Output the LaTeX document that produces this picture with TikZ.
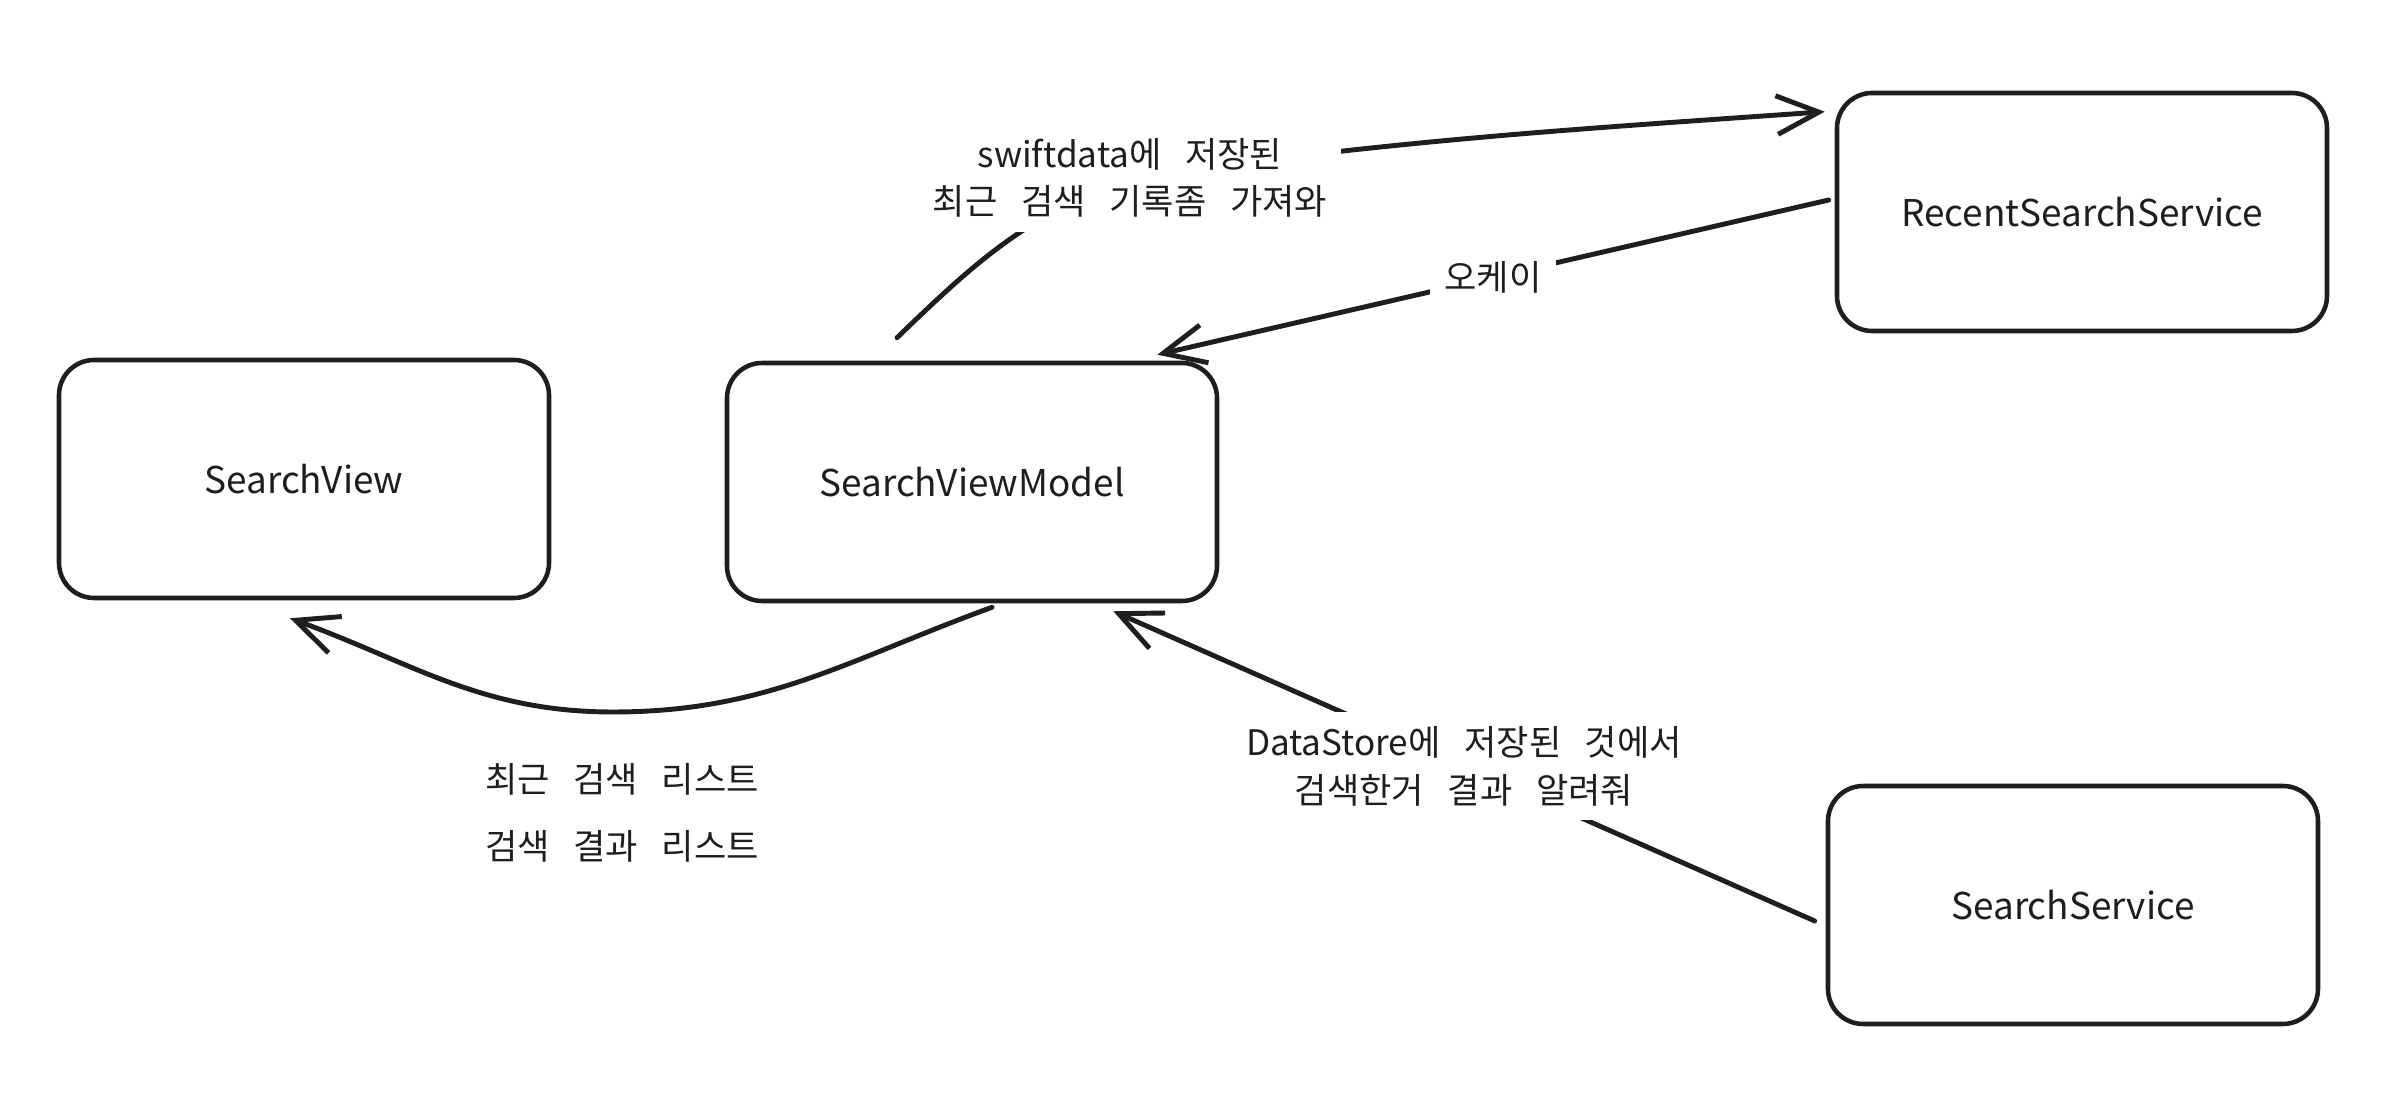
\documentclass[tikz,border=0pt]{standalone}
\usepackage{fontspec}
\setmainfont{Noto Sans CJK KR}[WordSpace=3]
\usetikzlibrary{arrows.meta,positioning,calc}
\definecolor{ink}{HTML}{1E1E1E}

\begin{document}
\begin{tikzpicture}[
    comp/.style={draw=ink, line width=1.3pt, rounded corners=10pt, minimum width=4.9cm, minimum height=2.38cm,
                 align=center, text=ink, font=\fontsize{10.5}{13}\selectfont},
    arr/.style={-{Straight Barb[length=12pt, width=11pt, line width=1.4pt]}, line width=1.4pt, draw=ink,
                line cap=round, line join=round},
    lbl/.style={fill=white, align=center, text=ink, inner sep=4pt, font=\fontsize{10}{13.5}\selectfont},
]
\useasboundingbox (0,0) rectangle (23.92,10.94);

% Components
\node[comp] (sv)  at (3.04,6.15)  {SearchView};
\node[comp] (svm) at (9.72,6.12)  {SearchViewModel};
\node[comp] (rss) at (20.82,8.82) {RecentSearchService};
\node[comp] (ss)  at (20.73,1.89) {SearchService};

% Request to RecentSearchService (curved, label on the bend)
\coordinate (fm) at (11.30,9.16);
\draw[arr] ([shift={(-0.75,0.23)}]svm.north) to[out=44, in=200] (fm)
    to[out=8, in=184] ([shift={(-0.10,-0.21)}]rss.north west);
\node[lbl] (fetch) at (fm) {swiftdata에 저장된\\최근 검색 기록좀 가져와};

% Reply from RecentSearchService
\draw[arr] ([shift={(-0.06,0.12)}]rss.west) -- node[lbl] (okay) {오케이}
    ([shift={(-0.62,0.06)}]svm.north east);

% ViewModel back to View
\coordinate (dip) at (6.13,3.82);
\draw[arr] ([shift={(0.20,-0.04)}]svm.south) to[out=200, in=0] (dip)
    to[out=180, in=-20] ([shift={(-0.14,-0.18)}]sv.south);
\node[lbl, font=\fontsize{10}{13}\selectfont] (lists) at (6.22,2.81) {최근 검색 리스트\\[6pt]검색 결과 리스트};

% SearchService result to ViewModel
\draw[arr] ([shift={(-0.11,-0.16)}]ss.west) -- node[lbl] (store) {DataStore에 저장된 것에서\\검색한거 결과 알려줘}
    ([shift={(-1.06,-0.08)}]svm.south east);
\end{tikzpicture}
\end{document}
